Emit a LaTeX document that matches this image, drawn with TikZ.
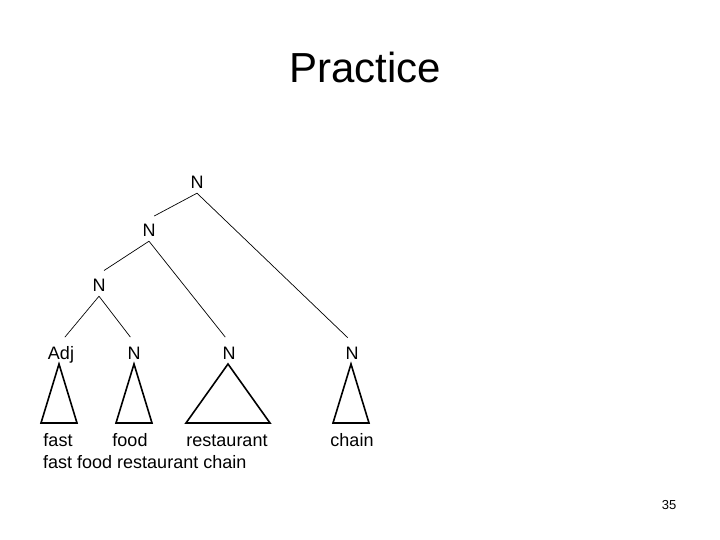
\documentclass[tikz,border=0pt]{standalone}
\usepackage{fontspec}
\setmainfont{Liberation Sans}
\tikzset{
  cat/.style={font=\fontsize{18}{21}\selectfont, inner sep=4.5pt, text height=13pt, text depth=0pt},
  word/.style={font=\fontsize{18}{21}\selectfont, inner sep=0pt, anchor=base},
  branch/.style={line width=0.7pt, shorten >=6pt},
  tri/.style={line width=1.6pt, line join=miter}
}
\begin{document}
\begin{tikzpicture}[x=1pt,y=-1pt]
  \useasboundingbox (0,0) rectangle (720,540);
  \node[font=\fontsize{42}{48}\selectfont, inner sep=0pt, anchor=base] (title) at (365.5,83) {Practice};
  % tree
  \node[cat] (top) at (197,182) {N};
  \node[cat] (mid) at (149,230) {N};
  \node[cat] (low) at (99,285) {N};
  \node[cat] (adj) at (61,353) {Adj};
  \node[cat] (nfood) at (134,353) {N};
  \node[cat] (nrest) at (229,353) {N};
  \node[cat] (nchain) at (352,353) {N};
  \draw[branch] (top.south) -- (mid.north);
  \draw[branch] (top.south) -- (nchain.north);
  \draw[branch] (mid.south) -- (low.north);
  \draw[branch] (mid.south) -- (nrest.north);
  \draw[branch] (low.south) -- (adj.north);
  \draw[branch] (low.south) -- (nfood.north);
  % triangles
  \foreach \x/\w in {59/18, 134/18, 228/42, 351/18}
    \draw[tri] (\x,364) -- (\x-\w,423) -- (\x+\w,423) -- cycle;
  % words
  \node[word] (wfast) at (58,446) {fast};
  \node[word] (wfood) at (130,446) {food};
  \node[word] (wrest) at (227,446) {restaurant};
  \node[word] (wchain) at (352,446) {chain};
  \node[word, anchor=base west] (whole) at (43,468) {fast food restaurant chain};
  \node[font=\fontsize{13}{15}\selectfont, inner sep=0pt, anchor=base] (page) at (669,509) {35};
\end{tikzpicture}
\end{document}
